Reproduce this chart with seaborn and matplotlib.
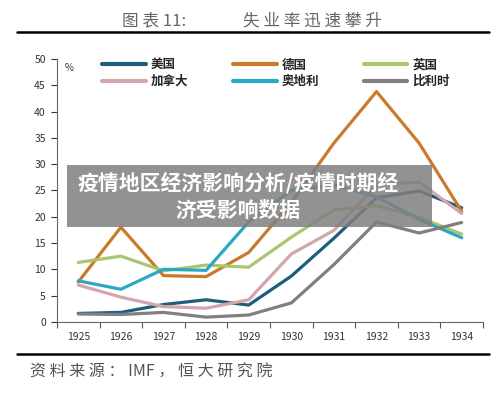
import numpy as np
import pandas as pd
import seaborn as sns
import matplotlib
matplotlib.use('Agg')
import matplotlib.pyplot as plt
from matplotlib.lines import Line2D
from matplotlib.patches import Rectangle

sns.set_style('ticks')
plt.rcParams['font.family'] = ['Noto Sans CJK SC', 'DejaVu Sans']

# unemployment rate, %
years = [1925, 1926, 1927, 1928, 1929, 1930, 1931, 1932, 1933, 1934]
usa = [1.6, 1.8, 3.3, 4.2, 3.2, 8.7, 15.9, 23.6, 24.9, 21.7]
germany = [7.6, 18.0, 8.8, 8.6, 13.2, 22.7, 34.0, 43.8, 34.0, 21.0]
uk = [11.3, 12.5, 9.7, 10.8, 10.4, 16.1, 21.3, 22.1, 19.9, 16.7]
canada = [7.0, 4.7, 2.9, 2.6, 4.2, 12.9, 17.4, 26.0, 26.6, 20.6]
austria = [7.8, 6.2, 10.0, 9.8, 19.0, 25.0, 26.0, 23.8, 19.5, 16.0]
belgium = [1.5, 1.4, 1.8, 0.9, 1.3, 3.6, 10.9, 19.0, 16.9, 18.9]

countries = ['美国', '德国', '英国', '加拿大', '奥地利', '比利时']
colors = ['#1d5d80', '#c97a2c', '#a9c76e', '#d2a6aa', '#2aa8c4', '#808080']

df = pd.DataFrame({
    'year': years * 6,
    'rate': usa + germany + uk + canada + austria + belgium,
    'country': np.repeat(countries, len(years)),
})

fig = plt.figure(figsize=(5, 3.93), dpi=100)
ax = fig.add_axes([0.114, 0.181, 0.852, 0.669])

sns.lineplot(data=df, x='year', y='rate', hue='country', hue_order=countries,
             palette=colors, linewidth=2.3, ax=ax, legend=True)
for ln in ax.lines:
    ln.set_solid_joinstyle('round')
    ln.set_solid_capstyle('round')

ax.set_xlim(1924.5, 1934.5)
ax.set_ylim(0, 50)
ax.set_yticks(range(0, 51, 5))
ax.set_xticks(years)
ax.set_xticks([y - 0.5 for y in years] + [1934.5], minor=True)
ax.tick_params(axis='x', which='major', length=0, labelsize=7.5, colors='#333333', pad=7)
ax.tick_params(axis='x', which='minor', length=4, width=0.8, color='#555555')
ax.tick_params(axis='y', length=4, width=0.8, labelsize=7.5, colors='#333333', pad=4)
ax.set_xlabel('')
ax.set_ylabel('')
sns.despine(ax=ax)
for s in ['left', 'bottom']:
    ax.spines[s].set_color('#666666')
    ax.spines[s].set_linewidth(0.8)

ax.text(0.017, 0.955, '%', transform=ax.transAxes, fontsize=7, color='#333333')

h, l = ax.get_legend_handles_labels()
order = [0, 3, 1, 4, 2, 5]
leg = ax.legend([h[i] for i in order], [l[i] for i in order], ncol=3,
                frameon=False, loc='upper left', bbox_to_anchor=(0.08, 1.045),
                handlelength=3.5, handletextpad=0.4, columnspacing=3.55,
                labelspacing=0.3, prop={'size': 9, 'weight': 'bold'})
for ln in leg.get_lines():
    ln.set_linewidth(3)

# header and footer
fig.text(0.244, 0.948, '图 表 11:', fontsize=12, color='#666666', ha='left', va='center')
fig.text(0.486, 0.948, ' '.join('失业率迅速攀升'), fontsize=12, color='#666666',
         ha='left', va='center')
fig.add_artist(Line2D([0.034, 0.978], [0.918, 0.918], color='black', lw=1.8))
fig.add_artist(Line2D([0.034, 0.978], [0.099, 0.099], color='black', lw=1.8))
fig.text(0.06, 0.053, '资 料 来 源 ： IMF ， 恒 大 研 究 院', fontsize=11.5, color='#555555',
         style='italic', ha='left', va='center')

# overlay banner
fig.add_artist(Rectangle((0.134, 0.422), 0.73, 0.158, transform=fig.transFigure,
                         facecolor='#7f7f7f', alpha=0.85, edgecolor='none', zorder=5))
fig.text(0.477, 0.536, '疫情地区经济影响分析/疫情时期经', fontsize=15, color='white',
         fontweight='bold', ha='center', va='center', zorder=6)
fig.text(0.477, 0.464, '济受影响数据', fontsize=15, color='white',
         fontweight='bold', ha='center', va='center', zorder=6)

fig.savefig('out.png', dpi=100)
